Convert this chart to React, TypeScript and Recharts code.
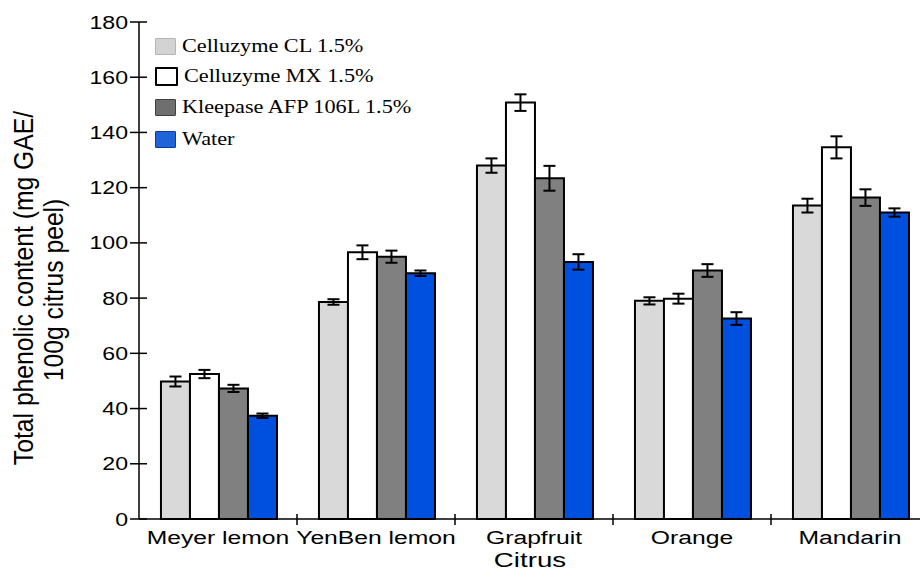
import { BarChart, Bar, XAxis, YAxis, ErrorBar, Label } from "recharts";

const categories = ["Meyer lemon", "YenBen lemon", "Grapfruit", "Orange", "Mandarin"];
const celluzymeCL = [49.8, 78.6, 128, 79, 113.5];
const celluzymeCLErr = [1.8, 1, 2.6, 1.3, 2.5];
const celluzymeMX = [52.5, 96.6, 150.8, 79.8, 134.6];
const celluzymeMXErr = [1.5, 2.5, 3, 1.8, 4];
const kleepase = [47.3, 95, 123.4, 90, 116.4];
const kleepaseErr = [1.3, 2.2, 4.5, 2.3, 3];
const water = [37.4, 89, 93.1, 72.6, 111];
const waterErr = [0.8, 1, 2.8, 2.3, 1.5];
const yTicks = [0, 20, 40, 60, 80, 100, 120, 140, 160, 180];

const series = [
  { key: "cl", err: "clErr", name: "Celluzyme CL 1.5%", fill: "#d9d9d9", box: "#d3d3d3", boxBorder: "#b5b5b5" },
  { key: "mx", err: "mxErr", name: "Celluzyme MX 1.5%", fill: "#ffffff", box: "#ffffff", boxBorder: "#000000" },
  { key: "kl", err: "klErr", name: "Kleepase AFP 106L 1.5%", fill: "#808080", box: "#6f6f6f", boxBorder: "#3f3f3f" },
  { key: "wa", err: "waErr", name: "Water", fill: "#0050e0", box: "#1f63d8", boxBorder: "#0b3c9c" },
];

const data = categories.map((c, i) => ({
  name: c,
  cl: celluzymeCL[i],
  clErr: celluzymeCLErr[i],
  mx: celluzymeMX[i],
  mxErr: celluzymeMXErr[i],
  kl: kleepase[i],
  klErr: kleepaseErr[i],
  wa: water[i],
  waErr: waterErr[i],
}));

const SANS = "'Liberation Sans', Arial, Helvetica, sans-serif";
const PLOT_LEFT = 139;
const PLOT_WIDTH = 790;
const BAND = PLOT_WIDTH / categories.length;

function YTick({ x, y, payload }: any) {
  return (
    <g>
      <line x1={x - 9} y1={y} x2={x + 8} y2={y} stroke="#000" strokeWidth={1.5} />
      <text
        transform={`translate(${x - 11},${y + 6.5}) scale(1.25,1)`}
        textAnchor="end"
        fontFamily={SANS}
        fontSize={18.5}
        fill="#000"
      >
        {payload.value}
      </text>
    </g>
  );
}

function XTick({ x, y, payload, index }: any) {
  return (
    <g>
      {index < categories.length - 1 && (
        <line x1={x + BAND / 2} y1={y - 5} x2={x + BAND / 2} y2={y + 6} stroke="#000" strokeWidth={1.5} />
      )}
      <text
        transform={`translate(${x},${y + 25}) scale(1.3,1)`}
        textAnchor="middle"
        fontFamily={SANS}
        fontSize={19}
        fill="#000"
      >
        {payload.value}
      </text>
    </g>
  );
}

function XTitle({ viewBox }: any) {
  const cx = viewBox.x + viewBox.width / 2 - 4;
  return (
    <text
      transform={`translate(${cx},${viewBox.y + 48}) scale(1.42,1)`}
      textAnchor="middle"
      fontFamily={SANS}
      fontSize={19.5}
      fill="#000"
    >
      Citrus
    </text>
  );
}

function YTitle() {
  return (
    <g fontFamily={SANS} fontSize={24} fill="#000">
      <text transform="translate(33,288) rotate(-90) scale(1.03,1.15)" textAnchor="middle">
        Total phenolic content (mg GAE/
      </text>
      <text transform="translate(63,290) rotate(-90) scale(1.03,1.15)" textAnchor="middle">
        100g citrus peel)
      </text>
    </g>
  );
}

function LegendBox() {
  const rows = [46, 75.5, 107, 139];
  return (
    <div style={{ position: "absolute", left: 155, top: 0 }}>
      {series.map((s, i) => (
        <div
          key={s.key}
          style={{ position: "absolute", top: rows[i] - 9, left: 0, display: "flex", alignItems: "center", whiteSpace: "nowrap" }}
        >
          <div
            style={{
              width: 19,
              height: 15,
              background: s.box,
              border: `${s.key === "mx" ? 2 : 1.5}px solid ${s.boxBorder}`,
              borderRadius: 1,
            }}
          />
          <span
            style={{
              marginLeft: 6,
              fontFamily: "'Liberation Serif', 'Times New Roman', serif",
              fontSize: 19.5,
              color: "#000",
              display: "inline-block",
              transform: "scaleX(1.14)",
              transformOrigin: "left center",
              lineHeight: "18px",
            }}
          >
            {s.name}
          </span>
        </div>
      ))}
    </div>
  );
}

export default function App() {
  return (
    <div style={{ position: "absolute", left: 0, top: 0, width: 920, height: 571, overflow: "hidden", background: "#fff" }}>
      <BarChart
        width={PLOT_LEFT + PLOT_WIDTH + 10}
        height={571}
        data={data}
        margin={{ top: 22, right: 10, left: 0, bottom: 0 }}
        barCategoryGap="13.9%"
        barGap={0}
      >
        <XAxis
          dataKey="name"
          height={52}
          axisLine={{ stroke: "#000", strokeWidth: 1.5 }}
          tickLine={false}
          tickSize={0}
          tickMargin={0}
          interval={0}
          tick={<XTick />}
        >
          <Label content={<XTitle />} />
        </XAxis>
        <YAxis
          width={PLOT_LEFT}
          domain={[0, 180]}
          ticks={yTicks}
          interval={0}
          axisLine={{ stroke: "#000", strokeWidth: 1.5 }}
          tickLine={false}
          tickSize={0}
          tickMargin={0}
          tick={<YTick />}
        >
          <Label content={<YTitle />} />
        </YAxis>
        {series.map((s) => (
          <Bar key={s.key} dataKey={s.key} name={s.name} fill={s.fill} stroke="#000" strokeWidth={2} isAnimationActive={false}>
            <ErrorBar dataKey={s.err} width={6} stroke="#000" strokeWidth={2} direction="y" />
          </Bar>
        ))}
      </BarChart>
      <LegendBox />
    </div>
  );
}
